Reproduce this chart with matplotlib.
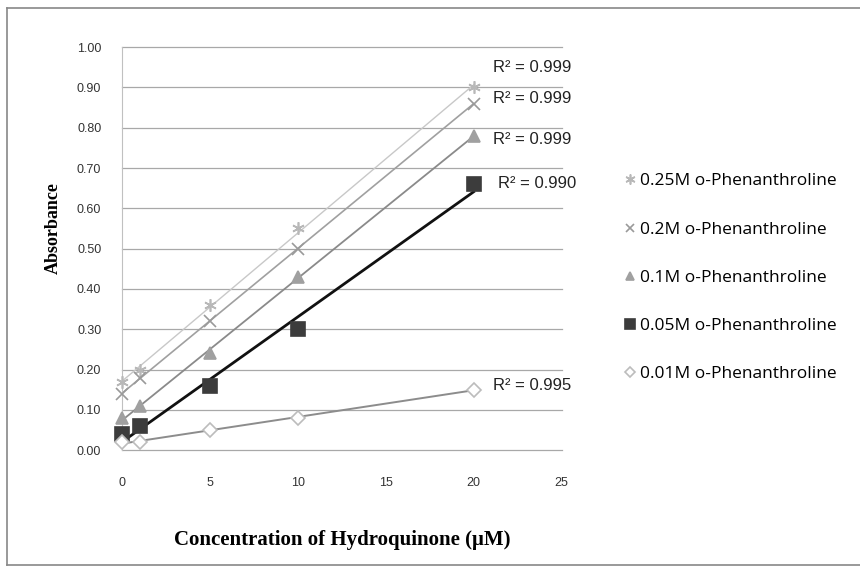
import matplotlib.pyplot as plt
import numpy as np
from matplotlib.lines import Line2D

# concentrations of hydroquinone (uM)
conc = [0, 1, 5, 10, 20]

# absorbance readings per o-phenanthroline concentration
abs_025 = [0.17, 0.20, 0.36, 0.55, 0.90]
abs_02 = [0.14, 0.18, 0.32, 0.50, 0.86]
abs_01 = [0.08, 0.11, 0.24, 0.43, 0.78]
abs_005 = [0.04, 0.06, 0.16, 0.30, 0.66]
abs_001 = [0.02, 0.02, 0.05, 0.08, 0.15]

labels = ['0.25M o-Phenanthroline', '0.2M o-Phenanthroline',
          '0.1M o-Phenanthroline', '0.05M o-Phenanthroline',
          '0.01M o-Phenanthroline']
r2_text = ['0.999', '0.999', '0.999', '0.990', '0.995']
r2_pos = [(21.1, 0.95), (21.1, 0.873), (21.1, 0.77), (21.4, 0.662), (21.1, 0.16)]

xticks = [0, 5, 10, 15, 20, 25]
yticks = np.arange(0, 1.01, 0.1)

series = [abs_025, abs_02, abs_01, abs_005, abs_001]
# marker, marker face, marker edge, size, line colour, line width
styles = [
    ((6, 2, 0), '#b8b8b8', '#b8b8b8', 9, '#c8c8c8', 1.0),
    ('x', '#9a9a9a', '#9a9a9a', 8, '#a0a0a0', 1.2),
    ('^', '#a0a0a0', '#a0a0a0', 8, '#8a8a8a', 1.3),
    ('s', '#3c3c3c', '#3c3c3c', 9.5, '#111111', 2.0),
    ('D', 'white', '#bcbcbc', 7, '#8c8c8c', 1.4),
]

plt.rcParams['font.family'] = ['Liberation Sans', 'DejaVu Sans']

fig = plt.figure(figsize=(8.6, 5.67), dpi=100)
ax = fig.add_axes([0.142, 0.206, 0.511, 0.711])

xfit = np.array([0, 20])
handles = []
for ys, (m, fc, ec, ms, lc, lw) in zip(series, styles):
    k, b = np.polyfit(conc, ys, 1)
    ax.plot(xfit, k * xfit + b, color=lc, lw=lw, zorder=2)
    h, = ax.plot(conc, ys, ls='none', marker=m, mfc=fc, mec=ec, ms=ms,
                 mew=1.2, clip_on=False, zorder=3)
    handles.append(h)

for t, (tx, ty) in zip(r2_text, r2_pos):
    ax.text(tx, ty, 'R² = ' + t, fontsize=12, color='#222222',
            va='center', ha='left')

ax.set_xlim(0, 25)
ax.set_ylim(0, 1.0)
ax.set_xticks(xticks)
ax.set_yticks(yticks)
ax.set_yticklabels(['%.2f' % v for v in yticks])
ax.tick_params(axis='x', length=0, pad=19, labelsize=9, labelcolor='#333333')
ax.tick_params(axis='y', length=0, pad=15, labelsize=9, labelcolor='#333333')
ax.grid(axis='y', color='#a8a8a8', lw=0.9)
for gl in ax.yaxis.get_gridlines():
    gl.set_clip_on(False)
ax.set_axisbelow(True)
for s in ['top', 'right', 'bottom']:
    ax.spines[s].set_visible(False)
ax.spines['left'].set_color('#c0c0c0')
ax.spines['left'].set_linewidth(0.8)

ax.set_xlabel('Concentration of Hydroquinone (μM)', family='Liberation Serif',
              fontweight='bold', fontsize=15, labelpad=30)
ax.set_ylabel('Absorbance', family='Liberation Serif', fontweight='bold',
              fontsize=13)
ax.yaxis.set_label_coords(-0.138, 0.55)

fig.legend(handles, labels, loc='upper left', bbox_to_anchor=(0.708, 0.722),
           frameon=False, prop={'family': 'Open Sans', 'size': 12.5},
           labelspacing=1.85, handlelength=0.6, handletextpad=0.3,
           markerscale=0.8)

# outer chart border
for xs, ys in [([0.008, 0.008], [0.004, 0.986]),
               ([0.008, 1.0], [0.986, 0.986]),
               ([0.008, 1.0], [0.004, 0.004])]:
    fig.add_artist(Line2D(xs, ys, color='#888888', lw=1.2,
                          transform=fig.transFigure))

fig.savefig('out.png', dpi=100, facecolor='white')
